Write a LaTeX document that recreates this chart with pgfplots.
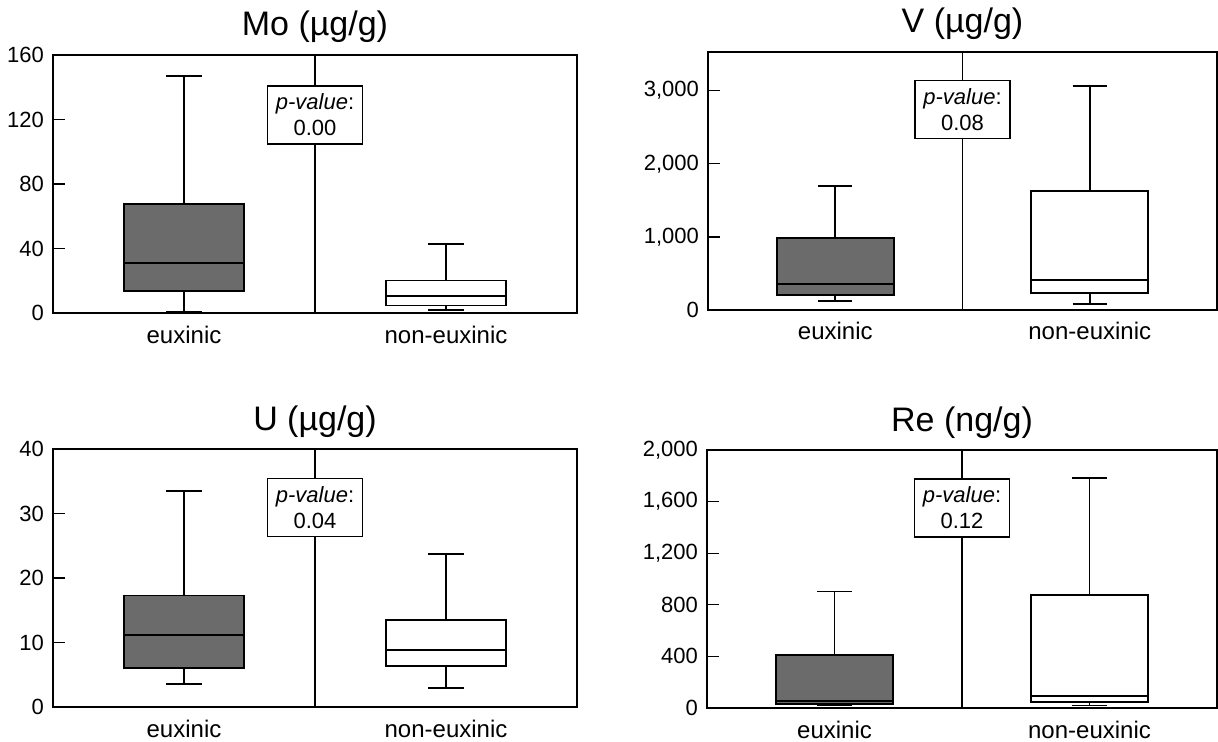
\documentclass[border=0pt]{standalone}
\usepackage{fontspec}
\setmainfont{Liberation Sans}
\usepackage{pgfplots}
\pgfplotsset{compat=1.18}

\definecolor{boxgray}{HTML}{6B6B6B}

\pgfplotsset{
  panel/.style={
    scale only axis,
    xmin=0, xmax=4,
    xtick={1,3}, xticklabels={euxinic, non-euxinic},
    xtick style={draw=none},
    tick align=inside,
    ytick pos=left,
    major tick length=6pt,
    axis line style={line width=0.6pt},
    ytick style={line width=0.6pt, black},
    yticklabel style={font=\fontsize{11}{13}\selectfont, xshift=-1pt},
    xticklabel style={font=\fontsize{12}{14}\selectfont, anchor=base, yshift=-15pt},
    /pgf/number format/assume math mode=true,
    /pgf/number format/1000 sep={,},
    scaled y ticks=false,
    title style={at={(0.5,1)}, anchor=base, yshift=3.5pt, font=\fontsize{17}{20}\selectfont},
    clip=false,
  },
  bline/.style={draw=black, line width=0.9pt, mark=none, solid},
  divider/.style={black, line width=0.6pt, mark=none},
}
\tikzset{
  pbox/.style={draw, fill=white, line width=0.6pt, align=center, minimum width=47.5pt,
    minimum height=29pt, inner sep=1pt, font=\fontsize{11}{13}\selectfont},
}
% box at x=1 (euxinic): lower whisker, Q1, median, Q3, upper whisker
\newcommand{\boxeux}[5]{%
  \addplot[bline] coordinates {(1,#1) (1,#2)};
  \addplot[bline] coordinates {(1,#4) (1,#5)};
  \addplot[bline] coordinates {(0.865,#1) (1.135,#1)};
  \addplot[bline] coordinates {(0.865,#5) (1.135,#5)};
  \addplot[bline, fill=boxgray] coordinates {(0.54,#2) (1.46,#2) (1.46,#4) (0.54,#4)} -- cycle;
  \addplot[bline] coordinates {(0.54,#3) (1.46,#3)};
}
% box at x=3 (non-euxinic)
\newcommand{\boxnon}[5]{%
  \addplot[bline] coordinates {(3,#1) (3,#2)};
  \addplot[bline] coordinates {(3,#4) (3,#5)};
  \addplot[bline] coordinates {(2.865,#1) (3.135,#1)};
  \addplot[bline] coordinates {(2.865,#5) (3.135,#5)};
  \addplot[bline, fill=white] coordinates {(2.54,#2) (3.46,#2) (3.46,#4) (2.54,#4)} -- cycle;
  \addplot[bline] coordinates {(2.54,#3) (3.46,#3)};
}

\begin{document}
\begin{tikzpicture}
\useasboundingbox (0,0) rectangle (609pt,-371pt);

% ---- Mo ----
\begin{axis}[panel, at={(26.5pt,-156.5pt)}, anchor=south west,
  width=262pt, height=129pt, ymin=0, ymax=160, ytick={0,40,80,120,160},
  title={Mo (µg/g)}]
\addplot[divider] coordinates {(2,0) (2,160)};
\boxeux{0.6}{13.4}{31}{67.5}{147.2}
\boxnon{1.7}{4.7}{10.7}{20.2}{42.7}
\node[pbox] at (axis cs:2,122.75) {\textit{p-value}:\\0.00};
\end{axis}

% ---- V ----
\begin{axis}[panel, at={(354pt,-155pt)}, anchor=south west,
  width=254.5pt, height=129pt, ymin=0, ymax=3530, ytick={0,1000,2000,3000},
  title={V (µg/g)}]
\addplot[divider] coordinates {(2,0) (2,3530)};
\boxeux{123}{210}{356}{990}{1701}
\boxnon{82}{228}{406}{1632}{3060}
\node[pbox] at (axis cs:2,2743) {\textit{p-value}:\\0.08};
\end{axis}

% ---- U ----
\begin{axis}[panel, at={(26.5pt,-353.5pt)}, anchor=south west,
  width=262pt, height=129pt, ymin=0, ymax=40, ytick={0,10,20,30,40},
  title={U (µg/g)}]
\addplot[divider] coordinates {(2,0) (2,40)};
\boxeux{3.6}{6.05}{11.2}{17.3}{33.5}
\boxnon{2.9}{6.3}{8.8}{13.45}{23.7}
\node[pbox] at (axis cs:2,30.9) {\textit{p-value}:\\0.04};
\end{axis}

% ---- Re ----
\begin{axis}[panel, at={(353.5pt,-354pt)}, anchor=south west,
  width=255pt, height=129pt, ymin=0, ymax=2000, ytick={0,400,800,1200,1600,2000},
  title={Re (ng/g)}]
\addplot[divider] coordinates {(2,0) (2,2000)};
\boxeux{20}{34}{57}{413}{903}
\boxnon{20}{46}{95}{875}{1781}
\node[pbox] at (axis cs:2,1551) {\textit{p-value}:\\0.12};
\end{axis}
\end{tikzpicture}
\end{document}
